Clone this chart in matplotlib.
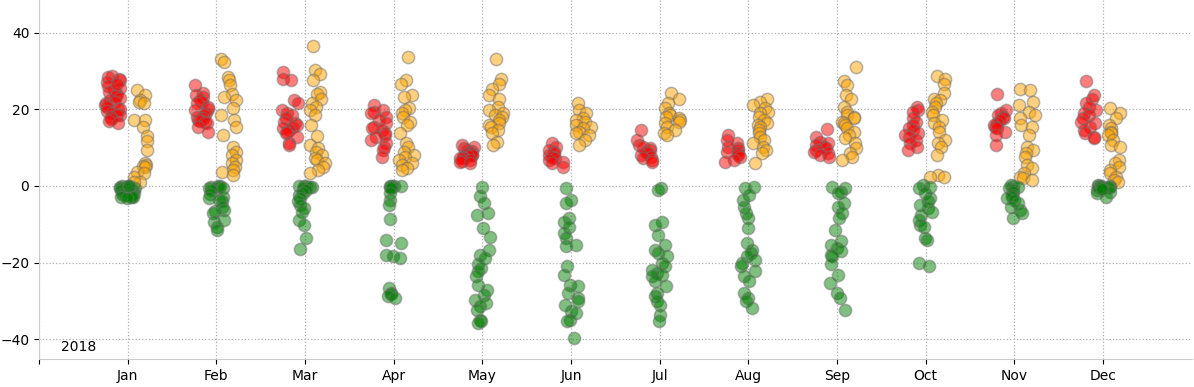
import matplotlib.pyplot as plt
import numpy as np

months = ['Jan', 'Feb', 'Mar', 'Apr', 'May', 'Jun',
          'Jul', 'Aug', 'Sep', 'Oct', 'Nov', 'Dec']

# one list of readings per month, per series
red_vals = [
    [28.8, 28.5, 28, 27.5, 27, 26, 25.5, 25, 24.5, 24, 23.5, 23, 22.5, 22, 21.5, 21,
     20.5, 20, 20, 19.5, 19, 18.5, 18.5, 18, 17.5, 17, 16.5, 26.5],
    [26.3, 24.2, 23.7, 23.2, 22.4, 22, 21.5, 20.7, 20, 19.8, 18.9, 18.5, 18, 17.6,
     17.2, 17, 16.8, 16.3, 15.4, 14.1],
    [29.8, 28, 27.6, 22.4, 21.5, 19.8, 18.9, 18.5, 17.6, 16.8, 16.3, 15.9, 15.4, 15,
     14.6, 14.1, 13.7, 12.8, 11.1, 10.7],
    [21, 19.8, 19.3, 18.9, 18, 17.2, 16.3, 15.4, 15, 14.6, 13.7, 13.3, 12.8, 12, 11.1,
     10.2, 9.4, 7.6],
    [10.7, 10.2, 9.8, 9.4, 9.1, 8.9, 8.5, 8.3, 8.1, 8.0, 7.8, 7.6, 7.4, 7.2, 6.8, 6.5,
     6.3, 5.9],
    [11.1, 10.2, 9.4, 8.9, 8.5, 8.1, 7.6, 7.2, 6.8, 6.3, 5.9, 5],
    [14.6, 12, 10.7, 10.2, 9.8, 9.4, 8.9, 8.5, 8.1, 7.6, 7.2, 6.8, 6.3],
    [13.3, 12, 11.1, 10.2, 9.8, 9.4, 8.9, 8.5, 8.1, 7.6, 6.8, 6.3],
    [14.8, 12.8, 11.5, 11.1, 10.7, 10.2, 9.8, 9.4, 8.9, 8.5, 8.1, 7.6],
    [20.7, 19.8, 19.3, 17.6, 16.8, 15.9, 15, 14.6, 13.7, 13.3, 12.8, 12, 11.1, 10.2, 9.4],
    [23.9, 19.8, 18.9, 18.5, 18, 17.6, 17.2, 16.3, 15.9, 15.4, 15, 14.1, 13.3, 10.7],
    [27.3, 23.7, 22.8, 21.5, 20.7, 19.8, 18.9, 18.5, 17.6, 16.8, 16.3, 15.4, 14.6,
     13.7, 12.8, 12.4],
]

orange_vals = [
    [25.0, 23.6, 22.4, 22.0, 21.5, 17.3, 17.3, 15.4, 13.0, 11.8, 9.4, 5.9, 5.5, 5.2,
     5.0, 3.7, 3.3, 2.4, 1.1, 0.9],
    [33.2, 32.4, 28.4, 27.6, 26.3, 24.1, 23.2, 22.4, 20.2, 18.5, 17.2, 15.4, 13.3,
     10.2, 8.9, 8.1, 6.8, 5.9, 5, 4.2, 3.7, 2.9],
    [36.5, 30.2, 29.3, 27.6, 24.6, 24.1, 22.8, 21.5, 20.7, 19.8, 18.5, 15.9, 13, 10.7,
     9.8, 8.9, 8.1, 7.2, 6.8, 5.9, 5, 4.2, 3.3],
    [33.7, 27.6, 26.7, 23.7, 23.2, 20.4, 19.8, 18.9, 18, 16.8, 15.9, 13.7, 11.1, 10.2,
     8.9, 8.1, 7.6, 6.8, 5.9, 5.5, 4.6, 4.2],
    [33.2, 27.8, 26.7, 25.4, 23.7, 22.8, 20.7, 19.8, 18.9, 18.5, 18, 17.2, 16.3, 15.9,
     15.4, 14.6, 13.7, 11.5, 10.7],
    [21.5, 19.8, 18.9, 17.6, 17.2, 16.8, 15.9, 15.4, 15, 14.1, 13.7, 13.3, 12, 10.7],
    [24.3, 22.8, 21.5, 20.2, 18.9, 18.5, 18, 17.6, 17.2, 16.8, 16.3, 15.4, 14.6, 13.7,
     13.3],
    [22.8, 22, 21.1, 20.2, 19.3, 18.9, 18, 17.2, 16.3, 15.9, 15.4, 14.6, 13.7, 12.8,
     12, 11.1, 10.2, 9.4, 8.5, 5.9],
    [31.1, 27.4, 26.3, 23.7, 22.8, 20.7, 19.3, 18.5, 18, 17.6, 16.8, 16.3, 15.9, 15,
     14.1, 13.3, 12.4, 11.1, 9.8, 8.5, 7.6, 6.8],
    [28.6, 28, 26.7, 24.3, 22.8, 22.4, 21.5, 20.7, 19.3, 18.5, 17.2, 16.3, 15.4, 14.1,
     12, 11.1, 10.2, 8.1, 2.9, 2.4, 2.3],
    [25.4, 25, 22, 21.1, 19.3, 18.5, 17.6, 15.9, 15.4, 13.3, 10.2, 9.4, 8.5, 7.6, 5.5,
     4.6, 3.3, 2.4, 2, 1.6],
    [20.2, 18.9, 17.6, 15.9, 15, 14.1, 13.7, 13.3, 12, 10.7, 10.2, 6.8, 5.9, 5, 4.2,
     3.3, 2.4, 1.6, 1.1],
]

green_vals = [
    [0, 0, -0.1, -0.2, -0.3, -0.4, -0.5, -0.6, -0.8, -1, -1.2, -1.5, -1.8, -2, -2.2,
     -2.5, -2.6, -2.8, -3, -3, -3.2, 0],
    [0, 0, -0.2, -0.3, -0.5, -0.6, -1, -2, -2.8, -3.2, -3.6, -4, -5.4, -6.2, -6.5, -7,
     -8.9, -9.5, -10.6, -11.5],
    [0, 0, 0, -0.2, -0.4, -0.6, -1, -1.9, -2.5, -3.2, -4, -5, -5.8, -6.7, -8.9, -10.2,
     -13.6, -16.5],
    [0, 0, 0, 0, -0.3, -0.6, -1.9, -3.6, -5, -8.7, -14, -14.9, -18, -18.4, -18.8,
     -26.6, -28, -28.3, -28.8, -29.2],
    [-0.3, -2.6, -4.5, -7.1, -7.5, -11, -13.3, -16.6, -18, -18.8, -20.5, -21.4, -22.3,
     -23.6, -25.8, -27.1, -28.4, -29.7, -30.6, -31.4, -32.3, -34.9, -35.3, -35.8],
    [-0.6, -3.6, -4.5, -8.4, -9.3, -10.6, -12.3, -13.6, -15.4, -15.8, -20.8, -23.2,
     -25.8, -26.2, -28, -29.2, -30.1, -31, -32.7, -33.2, -34.9, -35.3, -39.7],
    [-0.6, -1, -9.3, -10.2, -12.8, -15.4, -16.6, -17.5, -18.4, -20.1, -21, -21.9,
     -22.7, -23.2, -23.6, -24.9, -26.2, -28, -28.8, -30.1, -31, -33.6, -35.3],
    [-0.2, -0.6, -2.3, -3.6, -5.4, -7.1, -8.4, -11, -14.9, -16.6, -17.5, -18.4, -19.3,
     -20.1, -21, -22.3, -23.6, -24.9, -28, -29.2, -30.1, -31.9],
    [-0.2, -0.6, -1.5, -1.9, -4.5, -5.4, -7.1, -8.4, -11.5, -14.5, -15.4, -16.2,
     -17.1, -18, -18.4, -20.5, -23.2, -25.3, -28, -29.2, -32.3],
    [0.3, -0.2, -0.6, -1.9, -3.2, -4, -5, -5.8, -6.7, -7.6, -8.9, -10.2, -10.6, -13.6,
     -14, -20.1, -21],
    [0.3, 0, -0.2, -0.6, -1, -1.5, -2.3, -2.8, -3.2, -3.6, -4.5, -5.4, -6.2, -7.1,
     -8.4],
    [0.3, 0, 0, 0, -0.1, -0.2, -0.4, -0.6, -1, -1.5, -1.9, -2.8, -0.3, -0.8],
]

series = [
    (red_vals, 'red', -0.17),
    (orange_vals, 'orange', 0.14),
    (green_vals, 'green', 0.0),
]

fig = plt.figure(figsize=(11.94, 3.87), dpi=100)
ax = fig.add_axes([0.0327, 0.072, 0.9653, 0.928])

rng = np.random.default_rng(2018)
for vals, color, offset in series:
    for m, month_vals in enumerate(vals):
        y = np.array(month_vals)
        x = (m + 1) + offset + rng.uniform(-0.09, 0.09, len(y))
        ax.scatter(x, y, s=78, facecolor=color, alpha=0.5,
                   edgecolor='#707070', linewidth=1.1)

ax.set_xlim(0, 13)
ax.set_ylim(-45.2, 48.5)
ax.set_xticks(range(0, 13))
ax.set_xticklabels([''] + months)
ax.set_yticks([-40, -20, 0, 20, 40])
ax.grid(True, linestyle=':', color='#b0b0b0', linewidth=0.9)
ax.set_axisbelow(True)
for side in ['top', 'right']:
    ax.spines[side].set_visible(False)
for side in ['left', 'bottom']:
    ax.spines[side].set_color('#cccccc')
ax.tick_params(axis='both', labelsize=10)

ax.text(0.25, -42, '2018', fontsize=10, va='center')

plt.savefig('out.png', dpi=100)
